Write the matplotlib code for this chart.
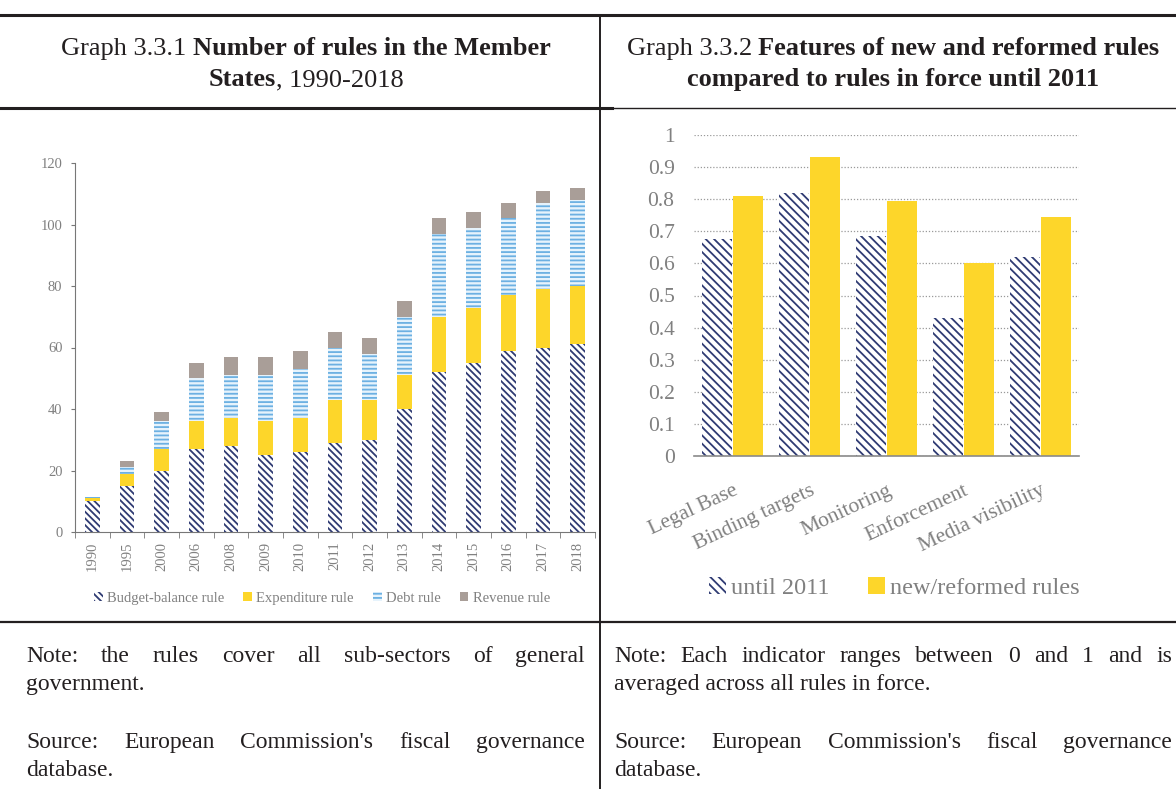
import numpy as np
import matplotlib.pyplot as plt
from matplotlib.patches import Patch
from matplotlib.lines import Line2D

plt.rcParams['font.family'] = ['Liberation Serif', 'DejaVu Serif']
plt.rcParams['hatch.linewidth'] = 1.3

# data: graph 3.3.1 (number of rules, stacked)
years = ['1990', '1995', '2000', '2006', '2008', '2009', '2010', '2011',
         '2012', '2013', '2014', '2015', '2016', '2017', '2018']
budget_balance = [10, 15, 20, 27, 28, 25, 26, 29, 30, 40, 52, 55, 59, 60, 61]
expenditure = [1, 4, 7, 9, 9, 11, 11, 14, 13, 11, 18, 18, 18, 19, 19]
debt = [0.5, 2, 9, 14, 14, 15, 16, 17, 15, 19, 27, 26, 25, 28, 28]
revenue = [0, 2, 3, 5, 6, 6, 6, 5, 5, 5, 5, 5, 5, 4, 4]

# data: graph 3.3.2 (features of rules)
features = ['Legal Base', 'Binding targets', 'Monitoring', 'Enforcement', 'Media visibility']
until_2011 = [0.675, 0.82, 0.685, 0.43, 0.62]
new_reformed = [0.81, 0.93, 0.795, 0.60, 0.745]

W, H = 1176, 789
NAVY = '#2f3b73'
YELLOW = '#fdd62a'
DEBT_BLUE = '#6cb0e2'
REVENUE = '#a99e98'
GREY = '#808080'
INK = '#231f20'
HATCH_L = '\\\\\\\\\\'
HATCH_R = '\\\\\\\\'

fig = plt.figure(figsize=(W / 100, H / 100), dpi=100)


def fx(px):
    return px / W


def fy(py):
    return 1 - py / H


def hline(y, x0, x1, lw):
    fig.add_artist(Line2D([fx(x0), fx(x1)], [fy(y), fy(y)], lw=lw, color=INK))


def vline(x, y0, y1, lw):
    fig.add_artist(Line2D([fx(x), fx(x)], [fy(y0), fy(y1)], lw=lw, color=INK))


# table frame
hline(15, 0, W, 2.2)
hline(108, 0, 612, 2.2)
hline(108, 612, W, 1.0)
hline(622, 0, W, 1.6)
vline(600, 15, H, 1.4)

renderer = fig.canvas.get_renderer()
space_px = lambda size: 0.25 * size * 100 / 72


def title_line(segments, cx, y, size=19):
    # segments: (text, weight); leading space means a word gap before it
    items = []
    for s, w in segments:
        gap = s.startswith(' ')
        t = fig.text(0, fy(y), s.strip(), fontsize=size, fontweight=w,
                     va='baseline', ha='left', color=INK)
        items.append((t, gap))
    widths = [t.get_window_extent(renderer).width for t, _ in items]
    total = sum(widths) + sum(space_px(size) for _, g in items if g)
    x = cx - total / 2
    for (t, gap), wd in zip(items, widths):
        if gap:
            x += space_px(size)
        t.set_x(fx(x))
        x += wd


def justified(text, x0, x1, y, size=17):
    words = text.split()
    ts = [fig.text(0, fy(y), w, fontsize=size, va='baseline', ha='left', color=INK) for w in words]
    widths = [t.get_window_extent(renderer).width for t in ts]
    gap = (x1 - x0 - sum(widths)) / (len(words) - 1)
    x = x0
    for t, wd in zip(ts, widths):
        t.set_x(fx(x))
        x += wd + gap


def plain(text, x0, y, size=17):
    fig.text(fx(x0), fy(y), text, fontsize=size, va='baseline', ha='left', color=INK)


title_line([('Graph 3.3.1', 'normal'), (' Number of rules in the Member', 'bold')], 306, 55)
title_line([('States', 'bold'), (', 1990-2018', 'normal')], 306, 86)
title_line([('Graph 3.3.2', 'normal'), (' Features of new and reformed rules', 'bold')], 893, 55)
title_line([('compared to rules in force until 2011', 'bold')], 893, 86)

justified('Note: the rules cover all sub-sectors of general', 26, 585, 662)
plain('government.', 26, 690)
justified("Source: European Commission's fiscal governance", 26, 585, 748)
plain('database.', 26, 776)
justified('Note: Each indicator ranges between 0 and 1 and is', 614, 1172, 662)
plain('averaged across all rules in force.', 614, 690)
justified("Source: European Commission's fiscal governance", 614, 1172, 748)
plain('database.', 614, 776)

# ---- left chart: stacked bars
ax1 = fig.add_axes([fx(75), fy(532), 520 / W, 369 / H])
x = np.arange(len(years))
b = np.array(budget_balance, dtype=float)
e = np.array(expenditure, dtype=float)
d = np.array(debt, dtype=float)
r = np.array(revenue, dtype=float)
bw = 0.43
ax1.bar(x, b, bw, color='white', edgecolor=NAVY, hatch=HATCH_L, lw=0)
ax1.bar(x, e, bw, bottom=b, color=YELLOW, lw=0)
ax1.bar(x, d, bw, bottom=b + e, color='#e6f3fc', edgecolor=DEBT_BLUE, hatch='----', lw=0)
ax1.bar(x, r, bw, bottom=b + e + d, color=REVENUE, lw=0)
ax1.set_xlim(-0.5, len(years) - 0.5)
ax1.set_ylim(0, 120)
ax1.set_yticks(np.arange(0, 121, 20))
ax1.set_xticks(x)
ax1.set_xticklabels(years, rotation=90)
ax1.set_xticks(np.arange(-0.5, len(years)), minor=True)
ax1.tick_params(axis='x', which='major', length=0, pad=7, labelsize=10.5, labelcolor=GREY)
ax1.tick_params(axis='x', which='minor', length=4, color='#777777')
ax1.tick_params(axis='y', length=3, pad=6, labelsize=10.5, labelcolor=GREY, color='#777777')
for s in ['top', 'right']:
    ax1.spines[s].set_visible(False)
for s in ['left', 'bottom']:
    ax1.spines[s].set_color('#777777')
handles1 = [Patch(facecolor='white', edgecolor=NAVY, hatch=HATCH_L, lw=0),
            Patch(facecolor=YELLOW, lw=0),
            Patch(facecolor='#e6f3fc', edgecolor=DEBT_BLUE, hatch='----', lw=0),
            Patch(facecolor=REVENUE, lw=0)]
ax1.legend(handles1, ['Budget-balance rule', 'Expenditure rule', 'Debt rule', 'Revenue rule'],
           loc='center', bbox_to_anchor=(0.475, -0.179), ncol=4, frameon=False,
           fontsize=10.5, labelcolor=GREY, handlelength=0.6, handleheight=0.6,
           handletextpad=0.3, columnspacing=1.3)

# ---- right chart: grouped bars
ax2 = fig.add_axes([fx(694), fy(456), 385 / W, 321 / H])
xf = np.arange(len(features))
ax2.bar(xf - 0.2, until_2011, 0.395, color='white', edgecolor=NAVY, hatch=HATCH_R, lw=0)
ax2.bar(xf + 0.205, new_reformed, 0.395, color=YELLOW, lw=0)
ax2.set_xlim(-0.5, len(features) - 0.5)
ax2.set_ylim(0, 1)
yt = np.round(np.arange(0, 1.01, 0.1), 1)
ax2.set_yticks(yt)
ax2.set_yticklabels(['0' if v == 0 else '1' if v == 1 else f'{v:.1f}' for v in yt])
ax2.grid(axis='y', linestyle=(0, (1, 1.5)), color='#9a9a9a', lw=0.9)
ax2.set_axisbelow(True)
ax2.set_xticks(xf)
ax2.set_xticklabels(features, rotation=25, ha='right', rotation_mode='anchor')
ax2.tick_params(axis='x', length=0, pad=18, labelsize=15.5, labelcolor=GREY)
ax2.tick_params(axis='y', length=0, pad=14, labelsize=15.5, labelcolor=GREY)
for s in ['top', 'right', 'left']:
    ax2.spines[s].set_visible(False)
ax2.spines['bottom'].set_color('#8a8a8a')
ax2.spines['bottom'].set_linewidth(1.2)
handles2 = [Patch(facecolor='white', edgecolor=NAVY, hatch=HATCH_R, lw=0),
            Patch(facecolor=YELLOW, lw=0)]
ax2.legend(handles2, ['until 2011', 'new/reformed rules'], loc='center',
           bbox_to_anchor=(0.52, -0.411), ncol=2, frameon=False, fontsize=17.5,
           labelcolor=GREY, handlelength=0.7, handleheight=0.7, handletextpad=0.2,
           columnspacing=1.6)

fig.savefig('out.png', dpi=100)
